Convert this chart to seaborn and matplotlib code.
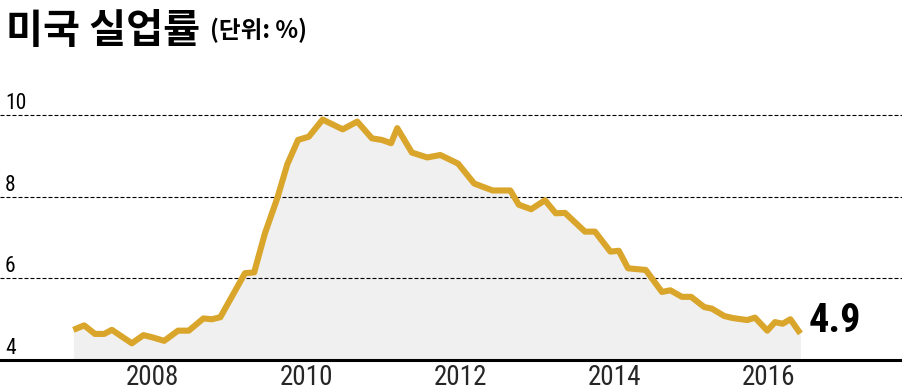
import numpy as np
import pandas as pd
import matplotlib
matplotlib.use("Agg")
import matplotlib.pyplot as plt
import matplotlib.transforms as mtransforms
from matplotlib import font_manager as fm
import seaborn as sns

# ---- data ----
years = [2006.97, 2007.11, 2007.25, 2007.37, 2007.47, 2007.73, 2007.88, 2007.99,
         2008.15, 2008.33, 2008.47, 2008.66, 2008.77, 2008.88, 2009.20, 2009.32,
         2009.46, 2009.62, 2009.75, 2009.89, 2010.03, 2010.21, 2010.47, 2010.66,
         2010.85, 2010.98, 2011.10, 2011.18, 2011.37, 2011.57, 2011.74, 2011.97,
         2012.18, 2012.42, 2012.65, 2012.76, 2012.92, 2013.10, 2013.24, 2013.36,
         2013.62, 2013.75, 2013.95, 2014.06, 2014.18, 2014.41, 2014.62, 2014.73,
         2014.88, 2015.00, 2015.17, 2015.27, 2015.43, 2015.54, 2015.73, 2015.83,
         2015.99, 2016.09, 2016.19, 2016.29, 2016.42]
rate = [4.74, 4.85, 4.64, 4.64, 4.74, 4.41, 4.61, 4.56,
        4.47, 4.72, 4.72, 5.02, 5.00, 5.05, 6.13, 6.15,
        7.11, 7.97, 8.80, 9.40, 9.48, 9.90, 9.66, 9.85,
        9.44, 9.40, 9.32, 9.69, 9.09, 8.97, 9.03, 8.82,
        8.33, 8.16, 8.16, 7.81, 7.70, 7.92, 7.60, 7.61,
        7.15, 7.15, 6.66, 6.68, 6.25, 6.21, 5.67, 5.71,
        5.55, 5.55, 5.30, 5.26, 5.08, 5.03, 4.98, 5.04,
        4.72, 4.93, 4.89, 5.00, 4.65]
x_ticks = [2008, 2010, 2012, 2014, 2016]
x_tick_labels = ["2008", "2010", "2012", "2014", "2016"]
y_ticks = [4, 6, 8, 10]
y_tick_labels = ["4", "6", "8", "10"]
title_main = "미국 실업률"
title_unit = "(단위: %)"
end_label = "4.9"

df = pd.DataFrame({"year": years, "rate": rate})

# ---- style ----
sns.set_theme(style="white")

# pick a narrow sans face if one is installed
names = {f.name for f in fm.fontManager.ttflist}
narrow = None
for cand, scale in [("Liberation Sans Narrow", 1.0), ("Roboto Condensed", 1.0),
                    ("DejaVu Sans Condensed", 0.85)]:
    if cand in names:
        narrow, fscale, stretch = cand, scale, "normal"
        break
if narrow is None:
    has_cond = any(f.name == "DejaVu Sans" and f.stretch == "condensed"
                   for f in fm.fontManager.ttflist)
    narrow, fscale = "DejaVu Sans", (0.85 if has_cond else 0.78)
    stretch = "condensed"
NARROW = [narrow, "DejaVu Sans"]
CJK = ["Noto Sans CJK KR", "DejaVu Sans"]
plt.rcParams["font.family"] = NARROW

LINE_C = "#D9A62B"
FILL_C = "#F0F0F0"

fig = plt.figure(figsize=(9.03, 3.90), dpi=100)
ax = fig.add_axes([0.0, 30 / 390, 1.0, 260 / 390])
ax.set_xlim(2006.016, 2017.754)
ax.set_ylim(4.0, 10.38)

ax.fill_between(df["year"], df["rate"], 4.0, color=FILL_C, linewidth=0, zorder=1)
for v in y_ticks[1:]:
    ax.axhline(v, color="black", lw=0.8, linestyle=(0, (3.6, 1.8)), zorder=2)
sns.lineplot(data=df, x="year", y="rate", ax=ax, color=LINE_C, linewidth=4.4,
             zorder=3, solid_joinstyle="round", solid_capstyle="butt")

# spines / ticks
for s in ["top", "right", "left"]:
    ax.spines[s].set_visible(False)
ax.spines["bottom"].set_color("black")
ax.spines["bottom"].set_linewidth(2.2)
ax.spines["bottom"].set_zorder(4)
ax.set_xticks(x_ticks)
ax.set_xticklabels(x_tick_labels, fontsize=19.5 * fscale, family=NARROW,
                   fontstretch=stretch)
ax.tick_params(axis="x", direction="in", length=11, width=0.9, color="black",
               pad=3, bottom=True)
ax.set_yticks([])
ax.set_xlabel("")
ax.set_ylabel("")
ax.grid(False)

# y tick labels above gridlines at the left
trans = mtransforms.blended_transform_factory(ax.transAxes, ax.transData)
trans = mtransforms.offset_copy(trans, fig=fig, x=5, y=6, units="dots")
for v, lab in zip(y_ticks, y_tick_labels):
    ax.text(0, v, lab, transform=trans, fontsize=15.5 * fscale, family=NARROW,
            fontstretch=stretch, ha="left", va="baseline", color="black")

# end label
ax.annotate(end_label, xy=(years[-1], rate[-1]), xytext=(6, 1),
            textcoords="offset points", fontsize=29 * fscale, fontweight="bold",
            family=NARROW, fontstretch=stretch, ha="left", va="baseline",
            color="black")

# titles
fig.text(6 / 903, 1 - 43 / 390, title_main, fontsize=29, fontweight="black",
         family=CJK, ha="left", va="baseline", color="black")
fig.text(210 / 903, 1 - 38 / 390, title_unit, fontsize=17, fontweight="bold",
         family=CJK, ha="left", va="baseline", color="black")

fig.savefig("out.png", dpi=100)
